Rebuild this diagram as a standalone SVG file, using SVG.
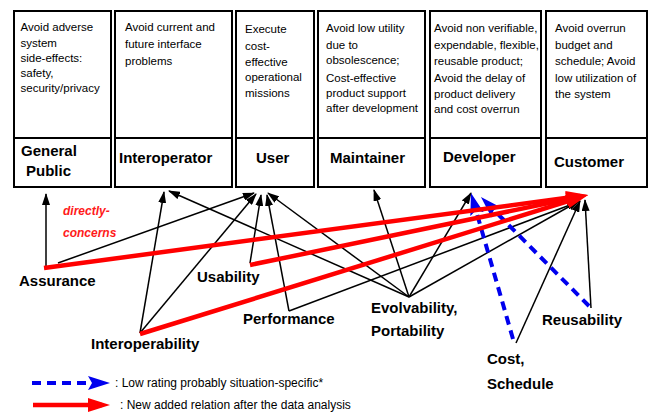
<svg xmlns="http://www.w3.org/2000/svg" width="653" height="412" viewBox="0 0 653 412">
  <style>
    .box { fill: #fff; stroke: #000; stroke-width: 2; }
    .div { stroke: #000; stroke-width: 2; }
    .goal { font-family: "Liberation Sans", Arial, sans-serif; font-size: 11.5px; fill: #000; }
    .role { font-family: "Liberation Sans", Arial, sans-serif; font-size: 15px; font-weight: bold; fill: #000; }
    .attr { font-family: "Liberation Sans", Arial, sans-serif; font-size: 15px; font-weight: bold; fill: #000; }
    .note { font-family: "Liberation Sans", Arial, sans-serif; font-size: 12px; font-weight: bold; font-style: italic; fill: #ff1a1a; }
    .legend { font-family: "Liberation Sans", Arial, sans-serif; font-size: 12px; fill: #000; }
    .k { fill: none; stroke: #000; stroke-width: 1.5; marker-end: url(#ah-black); }
    .r { fill: none; stroke: #ff0000; stroke-width: 4.5; marker-end: url(#ah-red); }
    .b { fill: none; stroke: #0000ee; stroke-width: 4; stroke-dasharray: 9 6; marker-end: url(#ah-blue); }
  </style>
  <defs>
    <marker id="ah-black" markerWidth="12" markerHeight="8" refX="11" refY="4" orient="auto" markerUnits="userSpaceOnUse">
      <path d="M0,0 L12,4 L0,8 Z" fill="#000"/>
    </marker>
    <marker id="ah-red" markerWidth="22" markerHeight="14" refX="14" refY="7" orient="auto" markerUnits="userSpaceOnUse">
      <path d="M0,0 L22,7 L0,14 Z" fill="#ff0000"/>
    </marker>
    <marker id="ah-blue" markerWidth="22" markerHeight="14" refX="14" refY="7" orient="auto" markerUnits="userSpaceOnUse">
      <path d="M0,0 L22,7 L0,14 L4,7 Z" fill="#0000ee"/>
    </marker>
  </defs>

  <rect width="653" height="412" fill="#fff"/>

  <!-- stakeholder boxes: goal text on top, role name below the divider -->
  <g id="general-public">
    <rect class="box" x="14" y="11" width="97" height="176"/>
    <line class="div" x1="14" y1="138" x2="111" y2="138"/>
    <text class="goal" x="20.5">
      <tspan x="20.5" y="31">Avoid adverse</tspan>
      <tspan x="20.5" y="46.5">system</tspan>
      <tspan x="20.5" y="61.5">side-effects:</tspan>
      <tspan x="20.5" y="76.5">safety,</tspan>
      <tspan x="20.5" y="91.5">security/privacy</tspan>
    </text>
    <text class="role" x="21" y="156">General</text>
    <text class="role" x="26" y="176">Public</text>
  </g>

  <g id="interoperator">
    <rect class="box" x="115" y="11" width="117" height="176"/>
    <line class="div" x1="115" y1="138" x2="232" y2="138"/>
    <text class="goal">
      <tspan x="125" y="31">Avoid current and</tspan>
      <tspan x="125" y="48">future interface</tspan>
      <tspan x="125" y="64.5">problems</tspan>
    </text>
    <text class="role" x="119" y="163">Interoperator</text>
  </g>

  <g id="user">
    <rect class="box" x="236" y="11" width="78" height="176"/>
    <line class="div" x1="236" y1="138" x2="314" y2="138"/>
    <text class="goal">
      <tspan x="245" y="33">Execute</tspan>
      <tspan x="245" y="49.5">cost-</tspan>
      <tspan x="245" y="66">effective</tspan>
      <tspan x="245" y="81">operational</tspan>
      <tspan x="245" y="97">missions</tspan>
    </text>
    <text class="role" x="256" y="163">User</text>
  </g>

  <g id="maintainer">
    <rect class="box" x="318" y="11" width="107" height="176"/>
    <line class="div" x1="318" y1="138" x2="425" y2="138"/>
    <text class="goal">
      <tspan x="326" y="32">Avoid low utility</tspan>
      <tspan x="326" y="49">due to</tspan>
      <tspan x="326" y="64">obsolescence;</tspan>
      <tspan x="326" y="82">Cost-effective</tspan>
      <tspan x="326" y="97">product support</tspan>
      <tspan x="326" y="112">after development</tspan>
    </text>
    <text class="role" x="330" y="163">Maintainer</text>
  </g>

  <g id="developer">
    <rect class="box" x="430" y="11" width="111" height="176"/>
    <line class="div" x1="430" y1="138" x2="541" y2="138"/>
    <text class="goal">
      <tspan x="434" y="32">Avoid non verifiable,</tspan>
      <tspan x="434" y="49">expendable, flexible,</tspan>
      <tspan x="434" y="65">reusable product;</tspan>
      <tspan x="434" y="82">Avoid the delay of</tspan>
      <tspan x="434" y="98">product delivery</tspan>
      <tspan x="434" y="113">and cost overrun</tspan>
    </text>
    <text class="role" x="443" y="162">Developer</text>
  </g>

  <g id="customer">
    <rect class="box" x="546" y="11" width="101" height="176"/>
    <line class="div" x1="546" y1="138" x2="647" y2="138"/>
    <text class="goal">
      <tspan x="555" y="32">Avoid overrun</tspan>
      <tspan x="555" y="49">budget and</tspan>
      <tspan x="555" y="65">schedule; Avoid</tspan>
      <tspan x="555" y="82">low utilization of</tspan>
      <tspan x="555" y="98">the system</tspan>
    </text>
    <text class="role" x="554" y="167">Customer</text>
  </g>

  <!-- quality attributes -->
  <g id="assurance"><text class="attr" x="19" y="286">Assurance</text></g>
  <g id="usability"><text class="attr" x="197" y="282">Usability</text></g>
  <g id="performance"><text class="attr" x="243" y="324">Performance</text></g>
  <g id="interoperability"><text class="attr" x="91" y="349">Interoperability</text></g>
  <g id="evolvability">
    <text class="attr" x="371" y="313">Evolvability,</text>
    <text class="attr" x="371" y="336">Portability</text>
  </g>
  <g id="reusability"><text class="attr" x="542" y="325">Reusability</text></g>
  <g id="cost-schedule">
    <text class="attr" x="487" y="364">Cost,</text>
    <text class="attr" x="487" y="389">Schedule</text>
  </g>

  <!-- relations -->
  <g id="connectors">
    <!-- directly-concerns (black) -->
    <line class="k" x1="46" y1="268" x2="46" y2="194"/>
    <line class="k" x1="58" y1="263" x2="254" y2="193"/>
    <line class="k" x1="140" y1="333" x2="164" y2="192"/>
    <line class="k" x1="140" y1="333" x2="256" y2="194"/>
    <line class="k" x1="250" y1="263" x2="261" y2="195"/>
    <line class="k" x1="289" y1="311" x2="267" y2="195"/>
    <line class="k" x1="289" y1="311" x2="578" y2="202"/>
    <line class="k" x1="409" y1="297" x2="169" y2="191"/>
    <line class="k" x1="409" y1="297" x2="268" y2="193"/>
    <line class="k" x1="409" y1="297" x2="374" y2="190"/>
    <line class="k" x1="409" y1="297" x2="471" y2="193"/>
    <line class="k" x1="409" y1="297" x2="579" y2="201"/>
    <line class="k" x1="516" y1="343" x2="580" y2="201"/>
    <line class="k" x1="591" y1="308" x2="585" y2="200"/>

    <!-- low rating, probably situation-specific (blue dashed) -->
    <line class="b" x1="513" y1="339" x2="473.2" y2="200.7"/>
    <line class="b" x1="589" y1="306" x2="486.6" y2="202.7"/>

    <!-- relations added after the data analysis (red) -->
    <line class="r" x1="44" y1="268" x2="580.1" y2="196.1"/>
    <line class="r" x1="250" y1="265" x2="580.2" y2="196.6"/>
    <line class="r" x1="140" y1="334" x2="580.4" y2="197.4"/>
  </g>

  <g id="directly-concerns-label">
    <text class="note" x="63" y="215">directly-</text>
    <text class="note" x="63" y="237">concerns</text>
  </g>

  <!-- legend -->
  <g id="legend">
    <line class="b" x1="32" y1="383" x2="102" y2="383" stroke-dasharray="8 7"/>
    <text class="legend" x="115" y="387">: Low rating probably situation-specific*</text>
    <line class="r" x1="33" y1="405" x2="102" y2="405"/>
    <text class="legend" x="120" y="409">: New added relation after the data analysis</text>
  </g>
</svg>
